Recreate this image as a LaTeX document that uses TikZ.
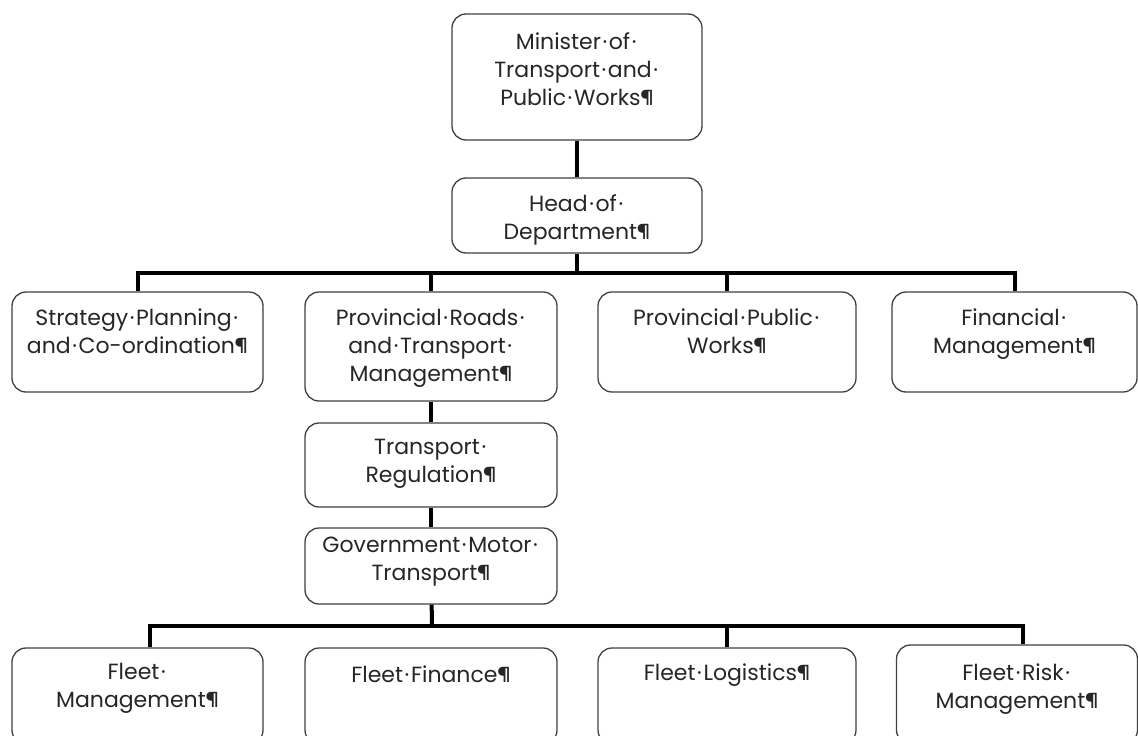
\documentclass[tikz,border=0pt]{standalone}
\usepackage{fontspec}
\setmainfont{Poppins}
\usetikzlibrary{calc}
\newcommand\spacedot{\makebox[0.36em]{·}}
\begin{document}
\begin{tikzpicture}[x=1pt,y=-1pt,
  unit/.style={draw=black!75,line width=1.3pt,rounded corners=14pt,
               fill=white,inner sep=0pt},
  unittext/.style={anchor=north,align=center,inner sep=0pt,
                   text=black!85,font=\fontsize{22}{28}\selectfont},
  link/.style={draw=black,line width=4pt,line join=miter}]
\path[use as bounding box] (0,0) rectangle (1138,736);
% top of the chart
\node[unit,minimum width=250pt,minimum height=126pt] (minister) at (577,77) {};
\node[unit,minimum width=250pt,minimum height=75pt] (head) at (577,215.5) {};
% first level
\node[unit,minimum width=251pt,minimum height=100pt] (strategy) at (137.5,342) {};
\node[unit,minimum width=252pt,minimum height=109pt] (roads) at (431,346.5) {};
\node[unit,minimum width=258pt,minimum height=100pt] (works) at (727,342) {};
\node[unit,minimum width=245pt,minimum height=100pt] (finance) at (1014.5,342) {};
% under roads and transport
\node[unit,minimum width=252pt,minimum height=84pt] (transreg) at (431,465) {};
\node[unit,minimum width=252pt,minimum height=76pt] (govmotor) at (431,566) {};
% fleet level (runs off the page)
\node[unit,minimum width=251pt,minimum height=96pt] (fleetmgmt) at (137.5,696) {};
\node[unit,minimum width=252pt,minimum height=96pt] (fleetfin) at (431,696) {};
\node[unit,minimum width=258pt,minimum height=96pt] (logistics) at (727,696) {};
\node[unit,minimum width=241pt,minimum height=99pt] (fleetrisk) at (1017,694.5) {};
% texts
\node[unittext] (ministertext) at ([yshift=-19pt]minister.north) {Minister\spacedot of\spacedot\\Transport\spacedot and\spacedot\\Public\spacedot Works¶};
\node[unittext] (headtext) at ([yshift=-17pt]head.north) {Head\spacedot of\spacedot\\Department¶};
\node[unittext] (strategytext) at ([yshift=-17pt]strategy.north) {Strategy\spacedot Planning\spacedot\\and\spacedot Co-ordination¶};
\node[unittext] (roadstext) at ([yshift=-17pt]roads.north) {Provincial\spacedot Roads\spacedot\\and\spacedot Transport\spacedot\\Management¶};
\node[unittext] (workstext) at ([yshift=-17pt]works.north) {Provincial\spacedot Public\spacedot\\Works¶};
\node[unittext] (financetext) at ([yshift=-17pt]finance.north) {Financial\spacedot\\Management¶};
\node[unittext] (transregtext) at ([yshift=-17pt]transreg.north) {Transport\spacedot\\Regulation¶};
\node[unittext] (govmotortext) at ([yshift=-9pt]govmotor.north) {Government\spacedot Motor\spacedot\\Transport¶};
\node[unittext] (fleetmgmttext) at ([yshift=-16pt]fleetmgmt.north) {Fleet\spacedot\\Management¶};
\node[unittext] (fleetfintext) at ([yshift=-18pt]fleetfin.north) {Fleet\spacedot Finance¶};
\node[unittext] (logisticstext) at ([yshift=-16pt]logistics.north) {Fleet\spacedot Logistics¶};
\node[unittext] (fleetrisktext) at ([yshift=-19pt]fleetrisk.north) {Fleet\spacedot Risk\spacedot\\Management¶};
% connectors
\coordinate (upperbus) at (577,272.5);
\coordinate (lowerbus) at (432,625.5);
\draw[link] (minister) -- (head);
\draw[link] (head) -- (upperbus);
\draw[link] (strategy.north) |- (upperbus) -| (finance.north);
\draw[link] (roads.north) -- (roads.north |- upperbus);
\draw[link] (works.north) -- (works.north |- upperbus);
\draw[link] (roads) -- (transreg);
\draw[link] (transreg) -- (govmotor);
\draw[link] (govmotor) -- (lowerbus);
\draw[link] ([xshift=12pt]fleetmgmt.north) |- (lowerbus) -| ([xshift=6pt]fleetrisk.north);
\draw[link] (logistics.north) -- (logistics.north |- lowerbus);
\end{tikzpicture}
\end{document}
